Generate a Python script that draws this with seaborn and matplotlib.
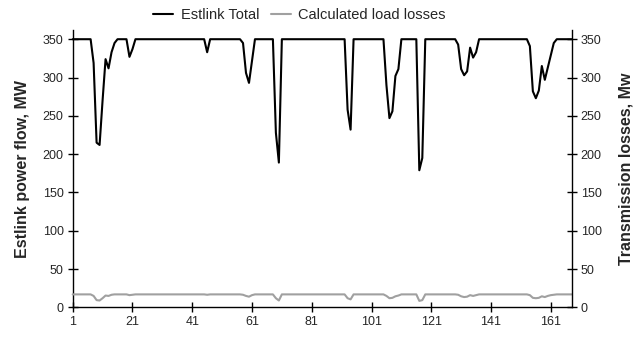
import matplotlib
matplotlib.use("Agg")
import matplotlib.pyplot as plt
import pandas as pd
import seaborn as sns

HOURS = list(range(1, 169))

ESTLINK_TOTAL = [
    # 1-10
    350, 350, 350, 350, 350, 350, 350, 319, 215, 212,
    # 11-20
    270, 324, 312, 333, 345, 350, 350, 350, 350, 327,
    # 21-30
    337, 350, 350, 350, 350, 350, 350, 350, 350, 350,
    # 31-40
    350, 350, 350, 350, 350, 350, 350, 350, 350, 350,
    # 41-50
    350, 350, 350, 350, 350, 333, 350, 350, 350, 350,
    # 51-60
    350, 350, 350, 350, 350, 350, 350, 345, 306, 293,
    # 61-70
    322, 350, 350, 350, 350, 350, 350, 350, 228, 189,
    # 71-80
    350, 350, 350, 350, 350, 350, 350, 350, 350, 350,
    # 81-90
    350, 350, 350, 350, 350, 350, 350, 350, 350, 350,
    # 91-100
    350, 350, 258, 232, 350, 350, 350, 350, 350, 350,
    # 101-110
    350, 350, 350, 350, 350, 290, 247, 256, 302, 311,
    # 111-120
    350, 350, 350, 350, 350, 350, 179, 195, 350, 350,
    # 121-130
    350, 350, 350, 350, 350, 350, 350, 350, 350, 343,
    # 131-140
    311, 303, 308, 339, 326, 333, 350, 350, 350, 350,
    # 141-150
    350, 350, 350, 350, 350, 350, 350, 350, 350, 350,
    # 151-160
    350, 350, 350, 341, 282, 273, 283, 315, 297, 313,
    # 161-168
    329, 345, 350, 350, 350, 350, 350, 350,
]

LOAD_LOSSES = [
    # 1-10
    17, 17, 17, 17, 17, 17, 17, 15, 9.5, 9,
    # 11-20
    12, 15.5, 15, 16.5, 17, 17, 17, 17, 17, 16,
    # 21-30
    16.5, 17, 17, 17, 17, 17, 17, 17, 17, 17,
    # 31-40
    17, 17, 17, 17, 17, 17, 17, 17, 17, 17,
    # 41-50
    17, 17, 17, 17, 17, 16.5, 17, 17, 17, 17,
    # 51-60
    17, 17, 17, 17, 17, 17, 17, 16.5, 15, 14,
    # 61-70
    16, 17, 17, 17, 17, 17, 17, 17, 12, 9,
    # 71-80
    17, 17, 17, 17, 17, 17, 17, 17, 17, 17,
    # 81-90
    17, 17, 17, 17, 17, 17, 17, 17, 17, 17,
    # 91-100
    17, 17, 12, 10.5, 17, 17, 17, 17, 17, 17,
    # 101-110
    17, 17, 17, 17, 17, 15, 12, 12.5, 14.5, 15.5,
    # 111-120
    17, 17, 17, 17, 17, 17, 8.5, 9.5, 17, 17,
    # 121-130
    17, 17, 17, 17, 17, 17, 17, 17, 17, 16.5,
    # 131-140
    14.5, 13.5, 14, 16, 15, 16, 17, 17, 17, 17,
    # 141-150
    17, 17, 17, 17, 17, 17, 17, 17, 17, 17,
    # 151-160
    17, 17, 17, 16, 12.5, 12, 12.5, 14.5, 13.5, 15,
    # 161-168
    16, 16.5, 17, 17, 17, 17, 17, 17,
]

X_TICKS = [1, 21, 41, 61, 81, 101, 121, 141, 161]
Y_TICKS = [0, 50, 100, 150, 200, 250, 300, 350]

sns.set_theme(style="white")
plt.rcParams["font.family"] = ["Liberation Sans", "DejaVu Sans"]

df = pd.DataFrame({"hour": HOURS, "total": ESTLINK_TOTAL, "losses": LOAD_LOSSES})

fig = plt.figure(figsize=(6.41, 3.38), dpi=100)
ax = fig.add_axes([0.1134, 0.0905, 0.7785, 0.8207])
ax2 = ax.twinx()

sns.lineplot(data=df, x="hour", y="total", ax=ax, color="black", lw=1.5,
             label="Estlink Total", legend=False)
sns.lineplot(data=df, x="hour", y="losses", ax=ax2, color="#a0a0a0", lw=1.5,
             label="Calculated load losses", legend=False)

for a in (ax, ax2):
    a.set_ylim(0, 362)
    a.set_xlim(1, 168)
    a.set_yticks(Y_TICKS)
    a.tick_params(axis="both", direction="inout", length=7, width=1, color="black",
                  labelsize=9, pad=3)
    for s in a.spines.values():
        s.set_color("black")
        s.set_linewidth(1)
    a.spines["top"].set_visible(False)
    for ln in a.get_lines():
        ln.set_clip_on(False)

ax.set_xticks(X_TICKS)
ax.tick_params(axis="y", left=True, right=False)
ax.tick_params(axis="x", bottom=True)
ax2.tick_params(axis="y", right=True, left=False)
ax.spines["right"].set_visible(False)
ax2.spines["left"].set_visible(False)
ax2.spines["bottom"].set_visible(False)

ax.set_xlabel("")
ax.set_ylabel("Estlink power flow, MW", fontsize=11.5, fontweight="bold", labelpad=9)
ax2.set_ylabel("Transmission losses, Mw", fontsize=11.5, fontweight="bold", labelpad=12)

handles = ax.get_lines()[:1] + ax2.get_lines()[:1]
fig.legend(handles, [h.get_label() for h in handles], loc="center",
           bbox_to_anchor=(0.467, 0.955), ncol=2, frameon=False, fontsize=10.5,
           handlelength=1.4, handletextpad=0.5, columnspacing=0.8)

fig.savefig("out.png", dpi=100)
